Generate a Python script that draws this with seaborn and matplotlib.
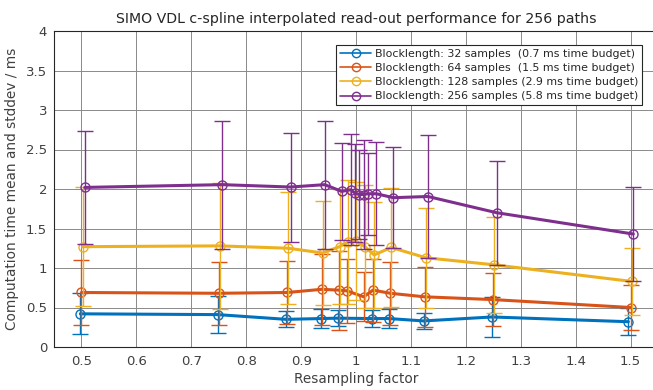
import numpy as np
import pandas as pd
import matplotlib
matplotlib.use('Agg')
import matplotlib.pyplot as plt
import seaborn as sns
from matplotlib.lines import Line2D

# resampling factors (slightly different per block length) and timings in ms
x32 = [0.498, 0.748, 0.873, 0.936, 0.967, 1.029, 1.060, 1.123, 1.248, 1.496]
mean32 = [0.42, 0.41, 0.35, 0.36, 0.365, 0.36, 0.36, 0.33, 0.38, 0.32]
std32 = [0.26, 0.23, 0.10, 0.12, 0.10, 0.11, 0.12, 0.10, 0.25, 0.17]

x64 = [0.5, 0.75, 0.875, 0.9375, 0.969, 0.984, 1.014, 1.031, 1.0625, 1.125, 1.25, 1.5]
mean64 = [0.69, 0.68, 0.69, 0.73, 0.72, 0.71, 0.635, 0.72, 0.68, 0.635, 0.60, 0.50]
std64 = [0.41, 0.40, 0.40, 0.45, 0.50, 0.40, 0.31, 0.40, 0.40, 0.38, 0.34, 0.28]

x128 = [0.502, 0.752, 0.877, 0.939, 0.970, 0.986, 1.0, 1.016, 1.033, 1.064, 1.127, 1.252, 1.502]
mean128 = [1.27, 1.28, 1.25, 1.19, 1.27, 1.33, 1.34, 1.27, 1.165, 1.26, 1.13, 1.04, 0.83]
std128 = [0.75, 0.80, 0.71, 0.66, 0.73, 0.78, 0.75, 0.78, 0.67, 0.75, 0.63, 0.61, 0.42]

x256 = [0.506, 0.756, 0.881, 0.943, 0.974, 0.990, 0.998, 1.006, 1.014, 1.021, 1.037, 1.068, 1.131, 1.256, 1.505]
mean256 = [2.02, 2.055, 2.025, 2.055, 1.97, 1.99, 1.95, 1.93, 1.93, 1.94, 1.94, 1.89, 1.905, 1.70, 1.43]
std256 = [0.72, 0.81, 0.69, 0.81, 0.61, 0.70, 0.62, 0.56, 0.69, 0.52, 0.65, 0.64, 0.78, 0.66, 0.60]

labels = ['Blocklength: 32 samples  (0.7 ms time budget)',
          'Blocklength: 64 samples  (1.5 ms time budget)',
          'Blocklength: 128 samples (2.9 ms time budget)',
          'Blocklength: 256 samples (5.8 ms time budget)']
colors = ['#0072BD', '#D95319', '#EDB120', '#7E2F8E']

series = [(x32, mean32, std32), (x64, mean64, std64),
          (x128, mean128, std128), (x256, mean256, std256)]

sns.set_style('white')
plt.rcParams['font.family'] = ['DejaVu Sans']
txt = '#404040'

fig = plt.figure(figsize=(6.53, 3.9), dpi=100)
# axes runs a little past the right edge of the picture (cropped like the original)
ax = fig.add_axes([54 / 653, 43 / 390, 604 / 653, 316 / 390])

for i, (xs, ms, ss) in enumerate(series):
    c = colors[i]
    ax.errorbar(xs, ms, yerr=ss, fmt='none', ecolor=c, elinewidth=1.0,
                capsize=6, capthick=1.0, zorder=2 + 2 * i)
    df = pd.DataFrame({'x': xs, 'y': ms})
    sns.lineplot(data=df, x='x', y='y', ax=ax, color=c, lw=2.2, marker='o',
                 markersize=6.5, markerfacecolor='none', markeredgecolor=c,
                 markeredgewidth=1.0, zorder=3 + 2 * i)

ax.set_xlim(0.45, 1.55)
ax.set_ylim(0, 4)
ax.set_xticks(np.arange(0.5, 1.51, 0.1))
ax.set_xticklabels(['0.5', '0.6', '0.7', '0.8', '0.9', '1', '1.1', '1.2', '1.3', '1.4', '1.5'])
ax.set_yticks(np.arange(0, 4.01, 0.5))
ax.set_yticklabels(['0', '0.5', '1', '1.5', '2', '2.5', '3', '3.5', '4'])
ax.grid(True, color='#8a8a8a', lw=0.7)
ax.set_axisbelow(True)
for sp in ax.spines.values():
    sp.set_color('#262626')
    sp.set_linewidth(0.8)
ax.tick_params(axis='both', labelsize=9.5, colors=txt, length=3, direction='in',
               labelcolor=txt)
ax.tick_params(axis='x', pad=6)
ax.tick_params(axis='y', pad=5)

ax.set_xlabel('Resampling factor', fontsize=9.8, color=txt, labelpad=3)
ax.set_ylabel('Computation time mean and stddev / ms', fontsize=9.8, color=txt, labelpad=5)
ax.set_title('SIMO VDL c-spline interpolated read-out performance for 256 paths',
             fontsize=10.2, color='#262626', pad=6)

handles = [Line2D([0], [0], color=c, lw=1.2, marker='o', markersize=6,
                  markerfacecolor='none', markeredgecolor=c) for c in colors]
leg = ax.legend(handles, labels, loc='upper right', fontsize=7.9, frameon=True,
                fancybox=False, handlelength=2.8, handletextpad=0.35,
                labelspacing=0.38, borderpad=0.35, borderaxespad=0,
                bbox_to_anchor=((642 - 54) / 604, (347 - 45) / 316))
leg.get_frame().set_edgecolor('#262626')
leg.get_frame().set_linewidth(0.8)
leg.get_frame().set_alpha(1)
for t in leg.get_texts():
    t.set_color('#262626')

fig.savefig('out.png', dpi=100)
